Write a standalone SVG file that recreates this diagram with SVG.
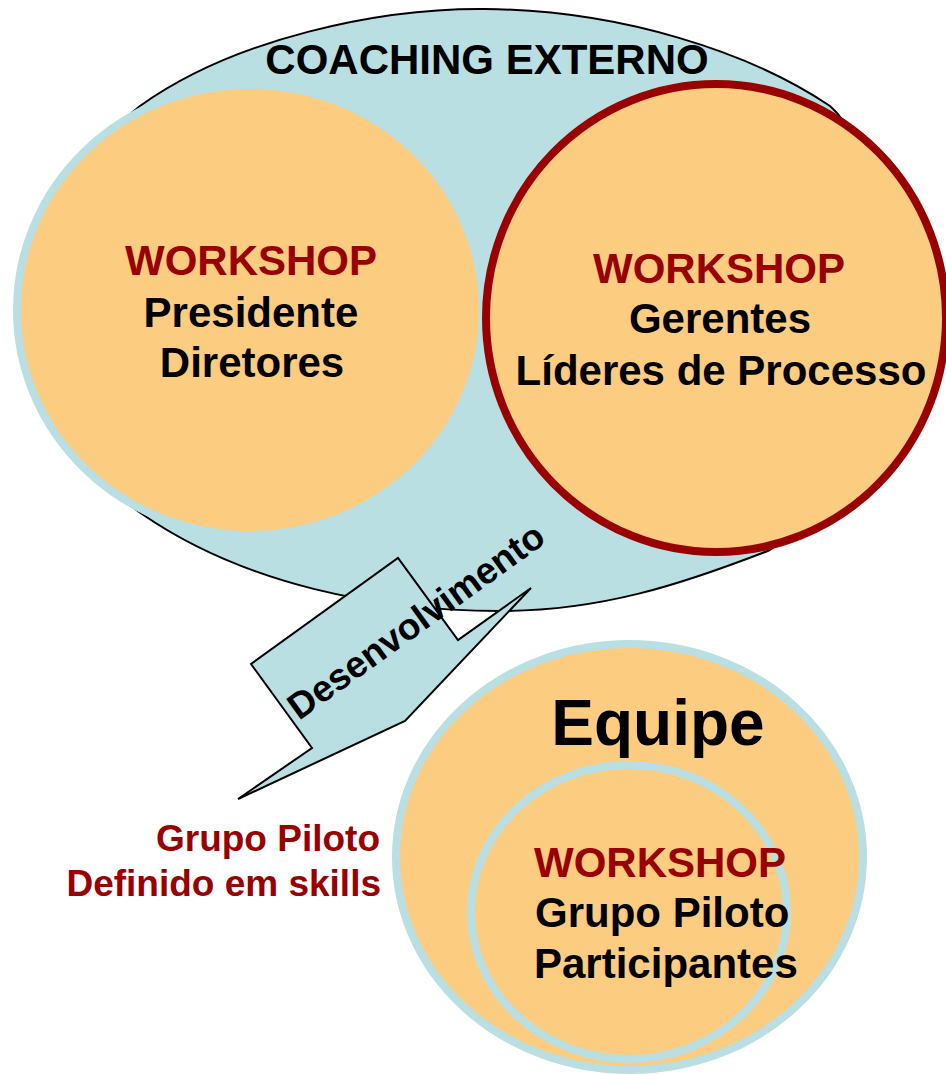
<svg xmlns="http://www.w3.org/2000/svg" width="946" height="1074" viewBox="0 0 946 1074">
  <style>
    .t { font-family: "Liberation Sans", Arial, sans-serif; font-weight: bold; }
    .blk { fill: #000000; }
    .red { fill: #990000; }
    .c { text-anchor: middle; }
    .s { text-anchor: start; }
    .e { text-anchor: end; }
    .f42 { font-size: 42px; }
    .blue-shape { fill: #B9DFE3; stroke: #000000; stroke-width: 2; }
    .orange-blue { fill: #FCCC80; stroke: #B9DFE3; stroke-width: 8; }
    .orange-red { fill: #FCCC80; stroke: #990000; stroke-width: 8; }
  </style>

  <g id="coaching-externo">
    <path class="blue-shape" d="M140,106 C235,38 380,8 485,9 C620,10 750,52 830,106 C870,140 890,250 880,330 C870,420 830,510 770,550 C680,585 600,611 500,611 C380,611 245,585 142,514 C100,485 60,420 60,310 C60,210 95,140 140,106 Z"/>
    <text class="t blk c" x="487" y="74" font-size="42">COACHING EXTERNO</text>
  </g>

  <g id="callout-desenvolvimento">
    <polygon class="blue-shape" stroke-linejoin="miter" points="238,799 312,748 251,664 398,558 458,640 531,588 405,721"/>
    <text class="t blk s" font-size="37" transform="translate(299,721) rotate(-35.8)">Desenvolvimento</text>
  </g>

  <g id="workshop-presidente">
    <ellipse class="orange-blue" cx="250" cy="310" rx="233" ry="225"/>
    <text class="t red c f42" x="251" y="275">WORKSHOP</text>
    <text class="t blk c f42" x="251" y="327">Presidente</text>
    <text class="t blk c f42" x="252" y="377">Diretores</text>
  </g>

  <g id="workshop-gerentes">
    <ellipse class="orange-red" cx="716" cy="318" rx="230" ry="234"/>
    <text class="t red c f42" x="719" y="283">WORKSHOP</text>
    <text class="t blk c f42" x="720" y="333">Gerentes</text>
    <text class="t blk c f42" x="721" y="385">Líderes de Processo</text>
  </g>

  <g id="grupo-piloto-label">
    <text class="t red e" font-size="37" x="380" y="851">Grupo Piloto</text>
    <text class="t red e" font-size="37" x="381" y="896">Definido em skills</text>
  </g>

  <g id="equipe">
    <ellipse class="orange-blue" cx="629.5" cy="857" rx="233.5" ry="213"/>
    <text class="t blk c" font-size="64" x="658" y="745">Equipe</text>
  </g>

  <g id="workshop-grupo-piloto">
    <ellipse class="orange-blue" cx="629" cy="912" rx="158" ry="147"/>
    <text class="t red s f42" x="534" y="877">WORKSHOP</text>
    <text class="t blk s f42" x="535" y="927">Grupo Piloto</text>
    <text class="t blk s f42" x="534" y="978">Participantes</text>
  </g>

  <g id="connectors"/>
</svg>
